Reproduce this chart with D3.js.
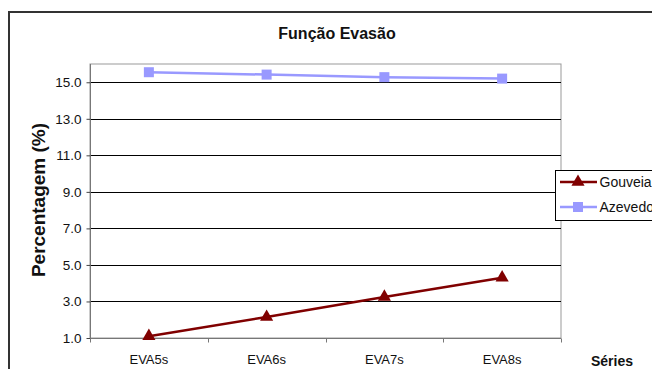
<!DOCTYPE html>
<html>
<head>
<meta charset="utf-8">
<script src="https://cdn.jsdelivr.net/npm/d3@7"></script>
<style>
  html, body { margin: 0; padding: 0; background: #fff; }
  svg { display: block; font-family: Arial, "Liberation Sans", sans-serif; }
</style>
</head>
<body>
<svg id="chart" width="652" height="369"></svg>
<script>
// Categories and series
const categories = ["EVA5s", "EVA6s", "EVA7s", "EVA8s"];
const gouveia = [1.1, 2.15, 3.25, 4.3];
const azevedo = [15.55, 15.42, 15.28, 15.2];
const yTicks = [1, 3, 5, 7, 9, 11, 13, 15];
const seriesNames = ["Gouveia", "Azevedo"];

const svg = d3.select("#chart");

// outer chart frame
svg.append("rect")
  .attr("x", 9).attr("y", 12)
  .attr("width", 700).attr("height", 400)
  .attr("fill", "#fff").attr("stroke", "#333").attr("stroke-width", 2);

const plot = { left: 90, right: 561, top: 64, bottom: 338 };

const x = d3.scaleBand().domain(categories).range([plot.left, plot.right]);
const y = d3.scaleLinear().domain([1, 16]).range([plot.bottom, plot.top]);

// plot area
svg.append("rect")
  .attr("x", plot.left).attr("y", plot.top)
  .attr("width", plot.right - plot.left).attr("height", plot.bottom - plot.top)
  .attr("fill", "#fff").attr("stroke", "#999").attr("stroke-width", 1);

// horizontal gridlines
svg.append("g").selectAll("line").data(yTicks).join("line")
  .attr("x1", plot.left).attr("x2", plot.right)
  .attr("y1", d => Math.round(y(d)) + 0.5).attr("y2", d => Math.round(y(d)) + 0.5)
  .attr("stroke", "#000").attr("stroke-width", 1);

// y axis
const yAxis = svg.append("g")
  .attr("transform", `translate(${plot.left + 0.5},0)`)
  .call(d3.axisLeft(y).tickValues(yTicks).tickFormat(d3.format(".1f")).tickSize(4).tickPadding(5));
yAxis.select(".domain").attr("stroke", "#777").attr("d", `M0,${plot.top}V${plot.bottom}`);
yAxis.selectAll(".tick line").attr("stroke", "#444");
yAxis.selectAll(".tick text").attr("font-size", 13.5).attr("fill", "#111")
  .attr("font-family", "Arial, 'Liberation Sans', sans-serif");

// x axis with ticks between categories
const xAxisG = svg.append("g").attr("transform", `translate(0,${plot.bottom + 0.5})`);
xAxisG.append("line")
  .attr("x1", plot.left).attr("x2", plot.right)
  .attr("stroke", "#777");
const bounds = categories.map(c => x(c)).concat([plot.right]);
xAxisG.selectAll("line.tk").data(bounds).join("line").attr("class", "tk")
  .attr("x1", d => Math.round(d) + 0.5).attr("x2", d => Math.round(d) + 0.5)
  .attr("y1", 0).attr("y2", 4).attr("stroke", "#777");
xAxisG.selectAll("text").data(categories).join("text")
  .attr("x", d => x(d) + x.bandwidth() / 2)
  .attr("y", 25)
  .attr("text-anchor", "middle")
  .attr("font-size", 13).attr("fill", "#111")
  .text(d => d);

// lines and markers
const line = d3.line().x((d, i) => x(categories[i]) + x.bandwidth() / 2).y(d => y(d));
const blue = "#9999FF", red = "#800000";

svg.append("path").datum(azevedo).attr("d", line)
  .attr("fill", "none").attr("stroke", blue).attr("stroke-width", 2.5);
svg.append("g").selectAll("rect").data(azevedo).join("rect")
  .attr("x", (d, i) => x(categories[i]) + x.bandwidth() / 2 - 5)
  .attr("y", d => y(d) - 5)
  .attr("width", 10).attr("height", 10)
  .attr("fill", blue);

svg.append("path").datum(gouveia).attr("d", line)
  .attr("fill", "none").attr("stroke", red).attr("stroke-width", 2.5);
const tri = d3.symbol().type(d3.symbolTriangle).size(75);
svg.append("g").selectAll("path").data(gouveia).join("path")
  .attr("d", tri)
  .attr("transform", (d, i) => `translate(${x(categories[i]) + x.bandwidth() / 2},${y(d)})`)
  .attr("fill", red);

// title
svg.append("text")
  .attr("x", 337).attr("y", 39)
  .attr("text-anchor", "middle")
  .attr("font-size", 16).attr("font-weight", "bold").attr("fill", "#111")
  .text("Função Evasão");

// y axis title
svg.append("text")
  .attr("transform", "translate(45,200) rotate(-90)")
  .attr("text-anchor", "middle")
  .attr("font-size", 19).attr("font-weight", "bold").attr("fill", "#111")
  .text("Percentagem (%)");

// x axis title
svg.append("text")
  .attr("x", 612).attr("y", 366)
  .attr("text-anchor", "middle")
  .attr("font-size", 14).attr("font-weight", "bold").attr("fill", "#111")
  .text("Séries");

// legend
const lg = svg.append("g");
lg.append("rect")
  .attr("x", 555.5).attr("y", 170.5)
  .attr("width", 120).attr("height", 50)
  .attr("fill", "#fff").attr("stroke", "#000").attr("stroke-width", 1);
const legendColors = [red, blue];
seriesNames.forEach((name, i) => {
  const cy = 182 + i * 25;
  lg.append("line")
    .attr("x1", 560).attr("x2", 597).attr("y1", cy).attr("y2", cy)
    .attr("stroke", legendColors[i]).attr("stroke-width", 2.5);
  if (i === 0) {
    lg.append("path").attr("d", tri).attr("transform", `translate(578,${cy})`).attr("fill", red);
  } else {
    lg.append("rect").attr("x", 573).attr("y", cy - 5).attr("width", 10).attr("height", 10).attr("fill", blue);
  }
  lg.append("text")
    .attr("x", 599.5).attr("y", cy + 5)
    .attr("font-size", 14).attr("fill", "#111")
    .text(name);
});
</script>
</body>
</html>
